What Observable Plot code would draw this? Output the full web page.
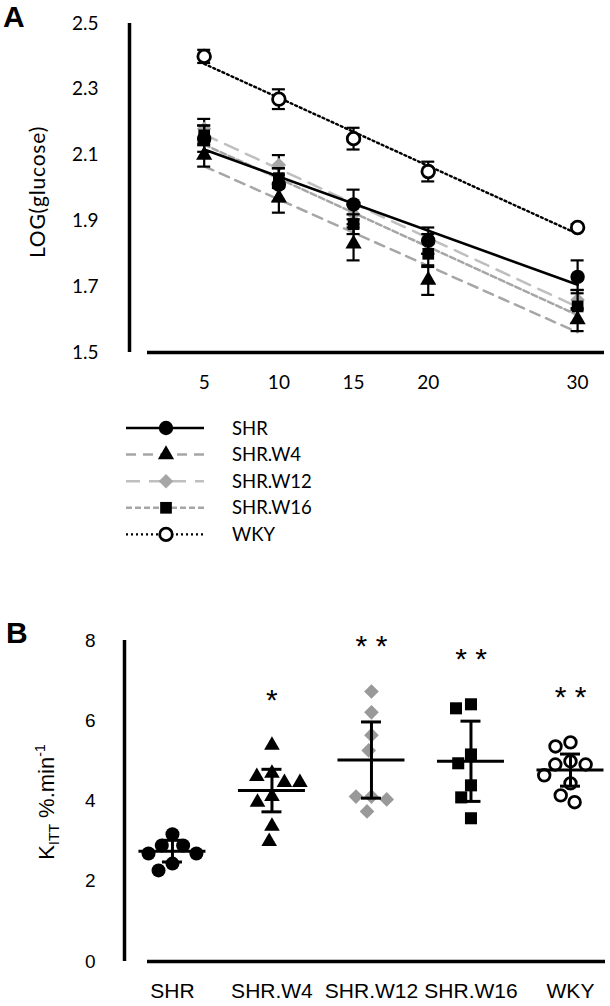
<!DOCTYPE html>
<html><head><meta charset="utf-8">
<script src="https://cdn.jsdelivr.net/npm/d3@7"></script>
<script src="https://cdn.jsdelivr.net/npm/@observablehq/plot@0.6"></script>
<style>
body{margin:0;background:#fff;}
#wrap{position:relative;width:610px;height:1006px;overflow:hidden;}
#wrap > svg{position:absolute;left:0;}
</style></head><body><div id="wrap"></div>
<script>
// ---------- Panel A data ----------
const timesA = [5, 10, 15, 20, 30];
const seriesA = ["SHR", "SHR.W4", "SHR.W12", "SHR.W16", "WKY"];
const shrA = [2.15, 2.01, 1.95, 1.84, 1.73];
const shrErrA = [0.04, 0.05, 0.045, 0.04, 0.05];
const w4A = [2.10, 1.97, 1.83, 1.72, 1.60];
const w4ErrA = [0.035, 0.045, 0.05, 0.045, 0.035];
const w12A = [2.18, 2.07, 1.92, 1.83, 1.66];
const w12ErrA = [0.03, 0.03, 0.03, 0.03, 0.03];
const w16A = [2.16, 2.03, 1.89, 1.80, 1.64];
const w16ErrA = [0.03, 0.03, 0.03, 0.04, 0.05];
const wkyA = [2.40, 2.27, 2.15, 2.05, 1.88];
const wkyErrA = [0.02, 0.03, 0.033, 0.03, 0.01];
const yTicksA = [1.5, 1.7, 1.9, 2.1, 2.3, 2.5];

// ---------- Panel B data ----------
const groupsB = ["SHR", "SHR.W4", "SHR.W12", "SHR.W16", "WKY"];
const shrB = [3.17, 2.89, 2.89, 2.69, 2.69, 2.44, 2.27];
const w4B = [5.39, 4.69, 4.61, 4.46, 4.46, 4.11, 3.97, 3.37, 2.99];
const w12B = [6.73, 6.21, 5.64, 5.26, 4.11, 4.11, 4.04, 3.74];
const w16B = [6.41, 6.31, 5.16, 4.94, 4.39, 4.09, 3.57];
const wkyB = [5.46, 5.36, 4.99, 4.91, 4.91, 4.64, 4.44, 4.14, 3.97];
const meanB = [2.75, 4.26, 5.02, 4.99, 4.77];
const errB = [0.27, 0.53, 0.95, 1.00, 0.40];
const starsB = ["", "*", "**", "**", "**"];
const yTicksB = [0, 2, 4, 6, 8];

// ---------- styles ----------
const fontA = "Lato, 'Open Sans', sans-serif";
const fontB = "'Liberation Sans', Arial, sans-serif";
const styleA = {
  "SHR":     {line: "#000", lw: 2.6, dash: null,   symbol: "circle",   fill: "#000", stroke: "none", sw: 0,   r: 7.2},
  "SHR.W4":  {line: "#a6a6a6", lw: 2.5, dash: "10,7", symbol: "triangle", fill: "#000", stroke: "none", sw: 0, r: 6},
  "SHR.W12": {line: "#bfbfbf", lw: 2.5, dash: "14,9", symbol: "diamond2", fill: "#a6a6a6", stroke: "none", sw: 0, r: 6.5},
  "SHR.W16": {line: "#a6a6a6", lw: 2.5, dash: "6,3", symbol: "square",   fill: "#000", stroke: "none", sw: 0,   r: 6.6},
  "WKY":     {line: "#000", lw: 2.4, dash: "2,3",  symbol: "circle",   fill: "#fff", stroke: "#000", sw: 2.8, r: 6.3}
};
const symMap = {circle: d3.symbolCircle, triangle: d3.symbolTriangle, diamond2: d3.symbolDiamond2, square: d3.symbolSquare};

const wrap = document.getElementById("wrap");

// ---------- Panel A ----------
const valsA = {"SHR": [shrA, shrErrA], "SHR.W4": [w4A, w4ErrA], "SHR.W12": [w12A, w12ErrA], "SHR.W16": [w16A, w16ErrA], "WKY": [wkyA, wkyErrA]};
const rowsA = [];
seriesA.forEach(name => valsA[name][0].forEach((v, i) => rowsA.push({series: name, t: timesA[i], v, e: valsA[name][1][i]})));
const drawOrder = ["SHR.W12", "SHR.W16", "SHR.W4", "SHR", "WKY"];

const marksA = [
  Plot.ruleX([0], {strokeWidth: 3.5}),
  Plot.ruleY([yTicksA[0]], {strokeWidth: 3.5, insetLeft: 18})
];
drawOrder.forEach(name => {
  const st = styleA[name];
  const d = rowsA.filter(r => r.series === name);
  marksA.push(Plot.linearRegressionY(d, {x: "t", y: "v", stroke: st.line, strokeWidth: st.lw, strokeDasharray: st.dash || undefined, ci: 0}));
});
drawOrder.forEach(name => {
  const st = styleA[name];
  const d = rowsA.filter(r => r.series === name);
  marksA.push(
    Plot.ruleX(d, {x: "t", y1: r => r.v - r.e, y2: r => r.v + r.e, stroke: "#000", strokeWidth: 2.2}),
    Plot.ruleY(d, {y: r => r.v + r.e, x1: "t", x2: "t", insetLeft: -6.5, insetRight: -6.5, stroke: "#000", strokeWidth: 2.2}),
    Plot.ruleY(d, {y: r => r.v - r.e, x1: "t", x2: "t", insetLeft: -6.5, insetRight: -6.5, stroke: "#000", strokeWidth: 2.2}),
    Plot.dot(d, {x: "t", y: "v", symbol: st.symbol, r: st.r, fill: st.fill, stroke: st.stroke, strokeWidth: st.sw})
  );
});

const svgA = Plot.plot({
  width: 610, height: 400,
  marginTop: 23, marginBottom: 48, marginLeft: 129, marginRight: 6,
  style: {background: "white", color: "black", fontFamily: fontA, fontSize: "19px", overflow: "visible"},
  x: {domain: [0, 31.8], ticks: timesA, tickSize: 0, tickPadding: 23, label: null},
  y: {domain: [1.5, 2.5], ticks: yTicksA, tickSize: 0, tickPadding: 31, label: null, tickFormat: d3.format(".1f")},
  marks: marksA
});
svgA.style.top = "0px";
wrap.appendChild(svgA);
d3.select(svgA).selectAll('[aria-label^="x-axis"] text, [aria-label^="y-axis"] text').attr("font-size", 19).attr("font-family", fontA);
d3.select(svgA).append("text").attr("x", 3).attr("y", 27).attr("text-anchor", "start")
  .attr("font-family", fontB).attr("font-weight", "bold").attr("font-size", 30).attr("fill", "#000").text("A");
d3.select(svgA).append("text").attr("transform", "translate(45,192) rotate(-90)").attr("text-anchor", "middle")
  .attr("font-family", fontA).attr("font-size", 21).attr("letter-spacing", 0.8).attr("fill", "#000").text("LOG(glucose)");

// ---------- Legend ----------
const legend = d3.create("svg").attr("width", 610).attr("height", 140).style("top", "410px");
seriesA.forEach((name, i) => {
  const st = styleA[name];
  const y = 18 + i * 26.6;
  legend.append("line").attr("x1", 126).attr("x2", 204).attr("y1", y).attr("y2", y)
    .attr("stroke", st.line).attr("stroke-width", st.lw).attr("stroke-dasharray", st.dash);
  legend.append("path").attr("transform", `translate(166,${y})`)
    .attr("d", d3.symbol(symMap[st.symbol], Math.PI * st.r * st.r)())
    .attr("fill", st.fill).attr("stroke", st.stroke).attr("stroke-width", st.sw);
  legend.append("text").attr("x", 232).attr("y", y).attr("dy", "0.36em")
    .attr("font-family", fontA).attr("font-size", 18.5).attr("fill", "#000").text(name);
});
wrap.appendChild(legend.node());

// ---------- Panel B ----------
const W = 610, HB = 406, mlB = 124, mrB = 5, mtB = 40, mbB = 45;
const xDomB = [-0.482, 4.352];
const pxX = (W - mlB - mrB) / (xDomB[1] - xDomB[0]);
const pxY = (HB - mtB - mbB) / (yTicksB[yTicksB.length - 1] - yTicksB[0]);

// beeswarm-style dodge computed from the values (pixel space)
function dodge(ys, diam) {
  const placed = [];
  return ys.map(y => {
    const cands = [0];
    placed.forEach(p => {
      const dy = y - p.y;
      if (Math.abs(dy) < diam) { const dx = Math.sqrt(diam * diam - dy * dy); cands.push(p.x - dx, p.x + dx); }
    });
    cands.sort((a, b) => (Math.abs(a) - Math.abs(b)) || (a - b));
    let best = cands.find(c => placed.every(p => Math.hypot(p.x - c, p.y - y) >= diam - 1e-6));
    if (best === undefined) best = 0;
    placed.push({x: best, y});
    return best;
  });
}
const valsB = [shrB, w4B, w12B, w16B, wkyB];
const pointsB = [];
valsB.forEach((vals, gi) => {
  const offs = dodge(vals.map(v => v * pxY), 15.5);
  vals.forEach((v, k) => pointsB.push({group: groupsB[gi], gi, v, xo: gi + offs[k] / pxX}));
});
const statsB = groupsB.map((g, gi) => ({group: g, gi, mean: meanB[gi], err: errB[gi], max: d3.max(valsB[gi]), star: starsB[gi].split("").join(" ")}));

const styleB = {
  "SHR":     {symbol: "circle",   fill: "#000", stroke: "none", sw: 0, r: 7},
  "SHR.W4":  {symbol: "triangle", fill: "#000", stroke: "none", sw: 0, r: 5.8},
  "SHR.W12": {symbol: "diamond2", fill: "#999", stroke: "none", sw: 0, r: 6.6},
  "SHR.W16": {symbol: "square",   fill: "#000", stroke: "none", sw: 0, r: 6.8},
  "WKY":     {symbol: "circle",   fill: "none", stroke: "#000", sw: 2.8, r: 5.8}
};
const marksB = [
  Plot.ruleX([xDomB[0]], {strokeWidth: 3.5}),
  Plot.ruleY([yTicksB[0]], {strokeWidth: 3.5, insetLeft: 23})
];
groupsB.forEach(g => {
  const st = styleB[g];
  marksB.push(Plot.dot(pointsB.filter(p => p.group === g), {x: "xo", y: "v", symbol: st.symbol, r: st.r, fill: st.fill, stroke: st.stroke, strokeWidth: st.sw}));
});
marksB.push(
  Plot.ruleX(statsB, {x: "gi", y1: d => d.mean - d.err, y2: d => d.mean + d.err, strokeWidth: 3}),
  Plot.ruleY(statsB, {y: d => d.mean + d.err, x1: "gi", x2: "gi", insetLeft: -10, insetRight: -10, strokeWidth: 3}),
  Plot.ruleY(statsB, {y: d => d.mean - d.err, x1: "gi", x2: "gi", insetLeft: -10, insetRight: -10, strokeWidth: 3}),
  Plot.ruleY(statsB, {y: "mean", x1: "gi", x2: "gi", insetLeft: -33.5, insetRight: -33.5, strokeWidth: 3}),
  Plot.text(statsB, {x: "gi", y: "max", text: "star", dy: -45, fontSize: 30, fontFamily: fontB, lineAnchor: "middle", fill: "#000"})
);

const svgB = Plot.plot({
  width: W, height: HB,
  marginTop: mtB, marginBottom: mbB, marginLeft: mlB, marginRight: mrB,
  style: {background: "white", color: "black", fontFamily: fontB, fontSize: "19px", overflow: "visible"},
  x: {domain: xDomB, ticks: [0, 1, 2, 3, 4], tickFormat: i => groupsB[i], tickSize: 0, tickPadding: 22, label: null},
  y: {domain: [yTicksB[0], yTicksB[yTicksB.length - 1]], ticks: yTicksB, tickSize: 0, tickPadding: 29, label: null},
  marks: marksB
});
svgB.style.top = "600px";
wrap.appendChild(svgB);
d3.select(svgB).selectAll('[aria-label^="x-axis"] text').attr("font-size", 21).attr("font-family", fontB);
d3.select(svgB).selectAll('[aria-label^="y-axis"] text').attr("font-size", 19).attr("font-family", fontB);
d3.select(svgB).append("text").attr("x", 6).attr("y", 43).attr("text-anchor", "start")
  .attr("font-family", fontB).attr("font-weight", "bold").attr("font-size", 30).attr("fill", "#000").text("B");
const tB = d3.select(svgB).append("text").attr("transform", "translate(54,202) rotate(-90)").attr("text-anchor", "middle")
  .attr("font-family", fontB).attr("font-size", 22).attr("fill", "#000");
tB.append("tspan").text("K");
tB.append("tspan").attr("font-size", 14).attr("dy", 5).text("ITT");
tB.append("tspan").attr("dy", -5).text(" %.min");
tB.append("tspan").attr("font-size", 14).attr("dy", -9).text("-1");
</script>
</body></html>
